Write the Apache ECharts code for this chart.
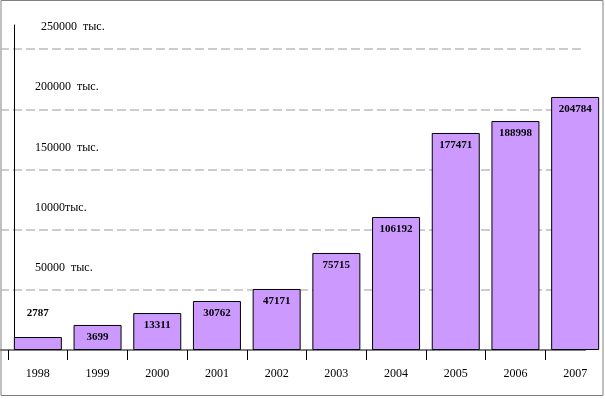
<!DOCTYPE html>
<html>
<head>
<meta charset="utf-8">
<script src="https://cdn.jsdelivr.net/npm/echarts@6/dist/echarts.min.js"></script>
<style>
  html, body { margin: 0; padding: 0; background: #fff; }
  #main { width: 605px; height: 399px; }
</style>
</head>
<body>
<div id="main"></div>
<script>
// годы по оси X
var years = ['1998', '1999', '2000', '2001', '2002', '2003', '2004', '2005', '2006', '2007'];
// высота столбцов, считанная по сетке рисунка (шаг сетки 50000)
var barValues = [10800, 20800, 30700, 40700, 50700, 80600, 110500, 180300, 190200, 210200];
// подписи, напечатанные на столбцах
var valueLabels = ['2787', '3699', '13311', '30762', '47171', '75715', '106192', '177471', '188998', '204784'];
// подписи делений оси Y (0, 50000 ... 250000)
var yTickLabels = ['', '50000  тыс.', '10000тыс.', '150000  тыс.', '200000  тыс.', '  250000  тыс.'];
var yStep = 50000;
var yMax = 270000;

var font = "'Times New Roman', 'Liberation Serif', serif";
var chart = echarts.init(document.getElementById('main'), null, { renderer: 'canvas' });

// данные столбцов; у первого подпись над столбцом
var barData = barValues.map(function (v, i) {
  var item = { value: v, label: { formatter: valueLabels[i] } };
  if (i === 0) {
    item.label.position = 'top';
    item.label.distance = 18;
  }
  return item;
});

var option = {
  animation: false,
  backgroundColor: '#fff',
  graphic: [{
    type: 'rect',
    shape: { x: 1, y: 0.5, width: 602, height: 395 },
    style: { fill: 'none', stroke: '#808080', lineWidth: 1 },
    silent: true
  }],
  grid: [
    // сетка и подписи оси Y
    { left: 0, right: 20, top: 25, bottom: 49 },
    // столбцы
    { left: 8, right: -3, top: 25, bottom: 49 }
  ],
  xAxis: [{
    gridIndex: 0,
    type: 'value',
    min: 0,
    max: 1,
    axisLine: { show: true, lineStyle: { color: '#808080', width: 2 } },
    axisTick: { show: false },
    axisLabel: { show: false },
    splitLine: { show: false }
  }, {
    gridIndex: 1,
    type: 'category',
    data: years,
    axisLine: { show: false },
    axisTick: { show: true, length: 10, lineStyle: { color: '#000', width: 1 } },
    axisLabel: { color: '#000', fontFamily: font, fontSize: 12, margin: 18 },
    splitLine: { show: false }
  }],
  yAxis: [{
    gridIndex: 0,
    type: 'value',
    min: 0,
    max: yMax,
    interval: yStep,
    axisLine: { show: false },
    axisTick: { show: false },
    axisLabel: {
      inside: true,
      margin: 35,
      color: '#000',
      fontFamily: font,
      fontSize: 12,
      verticalAlign: 'bottom',
      padding: [0, 0, 16, 0],
      formatter: function (v) {
        var k = Math.round(v / yStep);
        return (v % yStep === 0 && yTickLabels[k]) ? yTickLabels[k] : '';
      }
    },
    splitLine: {
      show: true,
      showMinLine: false,
      showMaxLine: false,
      lineStyle: { color: '#bcbcbc', width: 1.5, type: [9, 4] }
    }
  }, {
    gridIndex: 1,
    type: 'value',
    min: 0,
    max: yMax,
    offset: -6,
    axisLine: { show: true, lineStyle: { color: '#000', width: 1 } },
    axisTick: { show: false },
    axisLabel: { show: false },
    splitLine: { show: false }
  }],
  series: [{
    type: 'bar',
    xAxisIndex: 1,
    yAxisIndex: 1,
    barWidth: 48,
    data: barData,
    itemStyle: { color: '#cc99ff', borderColor: '#000', borderWidth: 1 },
    label: {
      show: true,
      position: 'insideTop',
      distance: 7,
      color: '#000',
      fontFamily: font,
      fontSize: 11,
      fontWeight: 'bold'
    }
  }]
};

chart.setOption(option);
</script>
</body>
</html>
